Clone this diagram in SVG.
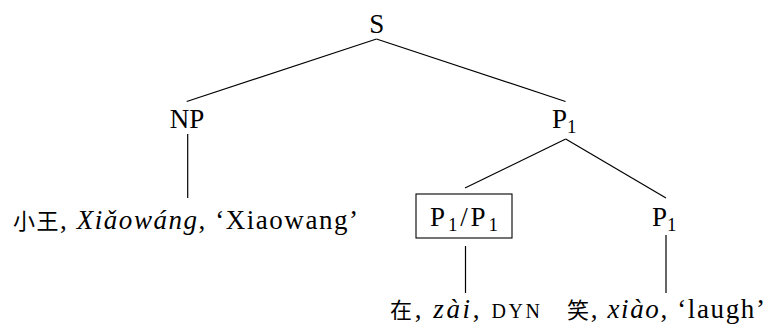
<svg xmlns="http://www.w3.org/2000/svg" width="767" height="327" viewBox="0 0 767 327">
<style>
  text { font-size: 27px; fill: #000; }
  .it { font-style: italic; }
  .sub { font-size: 19px; }
  .sc { font-size: 20px; }
  .edge { stroke: #000; stroke-width: 1.2; fill: none; stroke-linecap: butt; }
  .box { stroke: #000; stroke-width: 1.1; fill: none; }
</style>
<rect width="767" height="327" fill="#fff"/>
<g id="connectors">
  <line class="edge" x1="376.5" y1="39" x2="186.7" y2="101.5"/>
  <line class="edge" x1="376.5" y1="39" x2="565.5" y2="101.5"/>
  <line class="edge" x1="187.7" y1="134" x2="187.7" y2="198"/>
  <line class="edge" x1="565.7" y1="139" x2="465" y2="188"/>
  <line class="edge" x1="565.7" y1="139" x2="666" y2="198"/>
  <line class="edge" x1="465.5" y1="246" x2="465.5" y2="293"/>
  <line class="edge" x1="666" y1="235" x2="666" y2="293"/>
</g>
<g font-family="Liberation Serif, DejaVu Serif, serif">
<g id="node-S">
  <text x="376.7" y="33" text-anchor="middle">S</text>
</g>
<g id="node-NP">
  <text x="187" y="128" text-anchor="middle">NP</text>
</g>
<g id="node-P1-top">
  <text x="552" y="128">P<tspan class="sub" dy="5">1</tspan></text>
</g>
<g id="node-xiaowang">
  <text x="185.5" y="229" text-anchor="middle" textLength="345" lengthAdjust="spacing"><tspan font-family="Noto Sans CJK SC, sans-serif" font-size="22">小王</tspan>, <tspan class="it">Xiǎowáng</tspan>, ‘Xiaowang’</text>
</g>
<g id="node-P1P1">
  <rect class="box" x="416" y="194" width="96" height="44"/>
  <text x="464" y="226" text-anchor="middle" textLength="68" lengthAdjust="spacing">P<tspan class="sub" dy="5">1</tspan><tspan dy="-5">/P</tspan><tspan class="sub" dy="5">1</tspan></text>
</g>
<g id="node-P1-right">
  <text x="652" y="226">P<tspan class="sub" dy="5">1</tspan></text>
</g>
<g id="node-zai">
  <text x="465" y="318" text-anchor="middle" textLength="150" lengthAdjust="spacing"><tspan font-family="Noto Sans CJK SC, sans-serif" font-size="22">在</tspan>, <tspan class="it">zài</tspan>, <tspan class="sc">DYN</tspan></text>
</g>
<g id="node-xiao">
  <text x="666" y="318" text-anchor="middle" textLength="198" lengthAdjust="spacing"><tspan font-family="Noto Sans CJK SC, sans-serif" font-size="22">笑</tspan>, <tspan class="it">xiào</tspan>, ‘laugh’</text>
</g>
</g>
</svg>
